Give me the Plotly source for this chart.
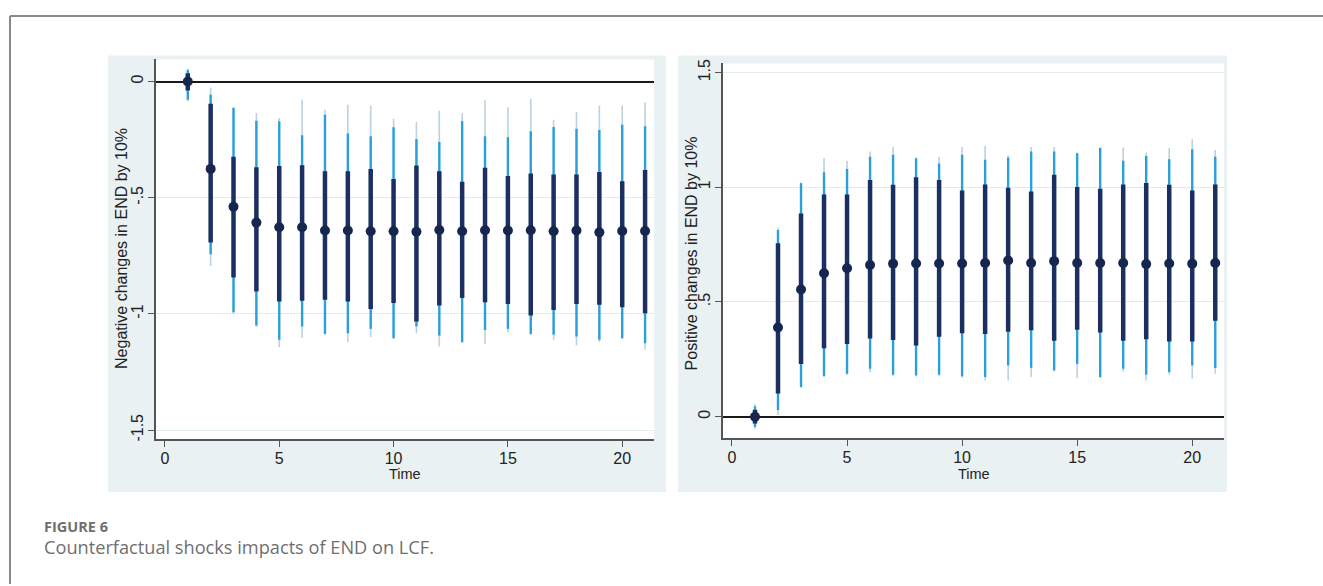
import plotly.graph_objects as go

# ---------------- data ----------------
time = list(range(1, 22))

# Negative shock panel
neg_mean = [0.0, -0.376, -0.539, -0.607, -0.627, -0.627, -0.641, -0.641, -0.644, -0.644,
            -0.646, -0.639, -0.644, -0.640, -0.641, -0.640, -0.644, -0.641, -0.649, -0.643, -0.643]
neg_in_hi = [0.036, -0.096, -0.324, -0.369, -0.364, -0.360, -0.386, -0.386, -0.376, -0.419,
             -0.361, -0.386, -0.431, -0.371, -0.407, -0.396, -0.400, -0.400, -0.389, -0.429, -0.381]
neg_in_lo = [-0.039, -0.693, -0.843, -0.903, -0.946, -0.943, -0.939, -0.946, -0.979, -0.953,
             -1.033, -0.964, -0.931, -0.950, -0.957, -1.007, -0.983, -0.957, -0.960, -0.971, -0.997]
neg_mid_hi = [0.050, -0.057, -0.114, -0.169, -0.171, -0.231, -0.143, -0.224, -0.236, -0.197,
              -0.247, -0.260, -0.171, -0.236, -0.240, -0.214, -0.196, -0.203, -0.209, -0.186, -0.193]
neg_mid_lo = [-0.079, -0.743, -0.993, -1.050, -1.111, -1.054, -1.086, -1.083, -1.064, -1.104,
              -1.054, -1.093, -1.121, -1.069, -1.064, -1.086, -1.089, -1.097, -1.111, -1.104, -1.126]
neg_out_hi = [0.055, -0.026, -0.110, -0.136, -0.157, -0.079, -0.121, -0.100, -0.103, -0.160,
              -0.174, -0.126, -0.136, -0.081, -0.111, -0.074, -0.164, -0.131, -0.103, -0.103, -0.090]
neg_out_lo = [-0.085, -0.793, -0.998, -1.055, -1.143, -1.103, -1.090, -1.121, -1.100, -1.108,
              -1.083, -1.140, -1.125, -1.129, -1.079, -1.090, -1.111, -1.136, -1.121, -1.108, -1.154]

# Positive shock panel
pos_mean = [0.0, 0.389, 0.554, 0.625, 0.647, 0.661, 0.667, 0.668, 0.668, 0.668,
            0.670, 0.681, 0.670, 0.678, 0.670, 0.670, 0.670, 0.665, 0.668, 0.667, 0.670]
pos_in_hi = [0.030, 0.756, 0.886, 0.968, 0.968, 1.032, 1.011, 1.044, 1.032, 0.986,
             1.012, 0.998, 0.982, 1.055, 1.001, 0.994, 1.012, 1.019, 1.011, 0.986, 1.012]
pos_in_lo = [-0.030, 0.101, 0.230, 0.298, 0.317, 0.341, 0.334, 0.310, 0.348, 0.364,
             0.360, 0.370, 0.377, 0.331, 0.379, 0.367, 0.331, 0.338, 0.328, 0.328, 0.418]
pos_mid_hi = [0.045, 0.814, 1.018, 1.066, 1.080, 1.133, 1.142, 1.127, 1.104, 1.142,
              1.120, 1.130, 1.156, 1.156, 1.148, 1.171, 1.116, 1.136, 1.122, 1.166, 1.133]
pos_mid_lo = [-0.045, 0.029, 0.130, 0.177, 0.187, 0.209, 0.183, 0.180, 0.183, 0.176,
              0.173, 0.223, 0.213, 0.202, 0.230, 0.173, 0.209, 0.183, 0.194, 0.223, 0.212]
pos_out_hi = [0.055, 0.825, 1.022, 1.127, 1.116, 1.156, 1.176, 1.130, 1.133, 1.176,
              1.180, 1.138, 1.176, 1.176, 1.152, 1.176, 1.173, 1.152, 1.171, 1.209, 1.162]
pos_out_lo = [-0.055, 0.007, 0.125, 0.173, 0.183, 0.194, 0.178, 0.175, 0.178, 0.170,
              0.158, 0.158, 0.173, 0.197, 0.168, 0.168, 0.197, 0.158, 0.183, 0.166, 0.187]

x_ticks = [0, 5, 10, 15, 20]
neg_ticks = [0, -0.5, -1, -1.5]
neg_ticklabels = ["0", "-.5", "-1", "-1.5"]
pos_ticks = [0, 0.5, 1, 1.5]
pos_ticklabels = ["0", ".5", "1", "1.5"]

NAVY = "#1b3060"
DOT = "#15264f"
MID = "#2a9fd8"
FAINT = "#bcd2de"
BG = "#eaf1f3"
GRID = "#e2ebee"
FONT = "Liberation Sans, Arial, sans-serif"
W, H = 1323, 586


def segs(xs, lo, hi):
    X, Y = [], []
    for x, a, b in zip(xs, lo, hi):
        X += [x, x, None]
        Y += [a, b, None]
    return X, Y


fig = go.Figure()


def add_panel(xa, ya, mean, ilo, ihi, mlo, mhi, olo, ohi):
    for lo, hi, col, w in [(olo, ohi, FAINT, 1.6), (mlo, mhi, MID, 2.4), (ilo, ihi, NAVY, 4.5)]:
        X, Y = segs(time, lo, hi)
        fig.add_trace(go.Scatter(x=X, y=Y, mode="lines", line=dict(color=col, width=w),
                                 xaxis=xa, yaxis=ya, showlegend=False, hoverinfo="skip"))
    fig.add_trace(go.Scatter(x=time, y=mean, mode="markers",
                             marker=dict(color=DOT, size=10, line=dict(width=0)),
                             xaxis=xa, yaxis=ya, showlegend=False))


add_panel("x", "y", neg_mean, neg_in_lo, neg_in_hi, neg_mid_lo, neg_mid_hi, neg_out_lo, neg_out_hi)
add_panel("x2", "y2", pos_mean, pos_in_lo, pos_in_hi, pos_mid_lo, pos_mid_hi, pos_out_lo, pos_out_hi)


def px_x(v):
    return v / W


def px_y(v):
    return 1 - v / H


L_DOM_X = [px_x(156), px_x(654)]
L_DOM_Y = [px_y(439.5), px_y(56)]
R_DOM_X = [px_x(723), px_x(1224)]
R_DOM_Y = [px_y(438.5), px_y(60)]

xcommon = dict(tickvals=x_ticks, showgrid=False, zeroline=False, showline=True,
               linecolor="#555555", linewidth=1.5, ticks="outside", ticklen=6,
               tickcolor="#555555", tickwidth=1.3, ticklabelstandoff=-2,
               tickfont=dict(family=FONT, size=16, color="#222222"))
ycommon = dict(showgrid=True, gridcolor=GRID, gridwidth=1.2, zeroline=True,
               zerolinecolor="#1a1a1a", zerolinewidth=1.6, showline=True,
               linecolor="#555555", linewidth=1.5, ticks="outside", ticklen=6,
               tickcolor="#555555", tickwidth=1.3, tickangle=-90, ticklabelstandoff=-1,
               tickfont=dict(family=FONT, size=16, color="#222222"))

fig.update_layout(
    width=W, height=H,
    margin=dict(l=0, r=0, t=0, b=0),
    paper_bgcolor="white", plot_bgcolor="white",
    xaxis=dict(domain=L_DOM_X, range=[-0.39, 21.39], anchor="y", **xcommon),
    yaxis=dict(domain=L_DOM_Y, range=[-1.538, 0.095], anchor="x",
               tickvals=neg_ticks, ticktext=neg_ticklabels, **ycommon),
    xaxis2=dict(domain=R_DOM_X, range=[-0.39, 21.38], anchor="y2", **xcommon),
    yaxis2=dict(domain=R_DOM_Y, range=[-0.093, 1.54], anchor="x2",
                tickvals=pos_ticks, ticktext=pos_ticklabels, **ycommon),
)

shapes = [
    # panel backgrounds
    dict(type="rect", xref="paper", yref="paper", x0=px_x(108), x1=px_x(666),
         y0=px_y(493), y1=px_y(52), fillcolor=BG, line=dict(width=0), layer="below"),
    dict(type="rect", xref="paper", yref="paper", x0=px_x(678), x1=px_x(1227),
         y0=px_y(493), y1=px_y(52), fillcolor=BG, line=dict(width=0), layer="below"),
    # white plot regions
    dict(type="rect", xref="paper", yref="paper", x0=L_DOM_X[0], x1=L_DOM_X[1],
         y0=L_DOM_Y[0], y1=L_DOM_Y[1], fillcolor="white", line=dict(width=0), layer="below"),
    dict(type="rect", xref="paper", yref="paper", x0=R_DOM_X[0], x1=R_DOM_X[1],
         y0=R_DOM_Y[0], y1=R_DOM_Y[1], fillcolor="white", line=dict(width=0), layer="below"),
    # outer frame
    dict(type="line", xref="paper", yref="paper", x0=px_x(10), x1=1.0,
         y0=px_y(12), y1=px_y(12), line=dict(color="#8a8a8a", width=2)),
    dict(type="line", xref="paper", yref="paper", x0=px_x(10), x1=px_x(10),
         y0=px_y(12), y1=0, line=dict(color="#8a8a8a", width=2)),
]
fig.update_layout(shapes=shapes)

ann = [
    dict(text="Negative changes in END by 10%", x=px_x(122), y=px_y(247.5), textangle=-90,
         font=dict(family=FONT, size=16, color="#222222")),
    dict(text="Positive changes in END by 10%", x=px_x(691), y=px_y(252), textangle=-90,
         font=dict(family=FONT, size=16, color="#222222")),
    dict(text="Time", x=px_x(405), y=px_y(475),
         font=dict(family=FONT, size=14.5, color="#222222")),
    dict(text="Time", x=px_x(974), y=px_y(475),
         font=dict(family=FONT, size=14.5, color="#222222")),
    dict(text="<b>FIGURE 6</b>", x=px_x(42), y=px_y(527.5), xanchor="left",
         font=dict(family="Open Sans, Lato, sans-serif", size=14.5, color="#6f6f6f")),
    dict(text="Counterfactual shocks impacts of END on LCF.", x=px_x(42), y=px_y(549),
         xanchor="left", font=dict(family="Open Sans, Lato, sans-serif", size=18.2, color="#6f6f6f")),
]
for a in ann:
    a.setdefault("xanchor", "center")
    a.update(xref="paper", yref="paper", yanchor="middle", showarrow=False)
fig.update_layout(annotations=ann)

fig.write_html("out.html")
